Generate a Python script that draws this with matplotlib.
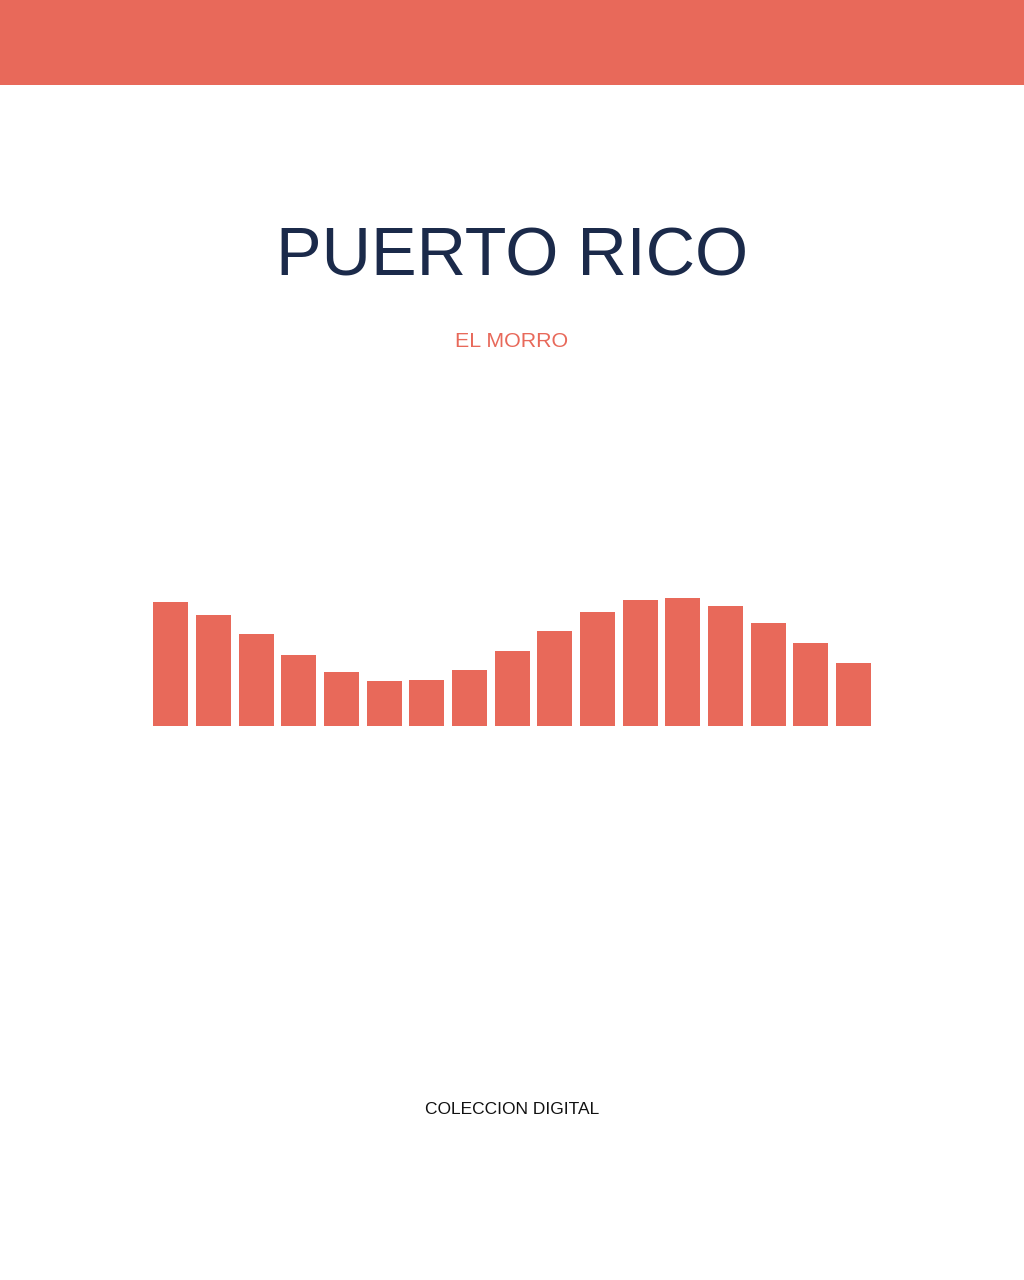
import matplotlib
matplotlib.use("Agg")
import matplotlib.pyplot as plt
from matplotlib.patches import Rectangle

# Data
categories = list(range(1, 18))
values = [124, 111, 91.7, 70.7, 53.7, 44.4, 45.4, 55.7, 74.4, 94.7,
          113.4, 125.4, 127.4, 119.4, 103, 82.7, 62.4]
title = "PUERTO RICO"
subtitle = "EL MORRO"
footer = "COLECCION DIGITAL"

CORAL = "#E8695A"
NAVY = "#1B2A4A"

W, H = 1024, 1280
fig = plt.figure(figsize=(W / 100, H / 100), dpi=100)
fig.patch.set_facecolor("white")

# top band
fig.patches.append(Rectangle((0, 1 - 85 / H), 1, 85 / H, transform=fig.transFigure,
                             facecolor=CORAL, edgecolor="none", zorder=0))

font = "Liberation Sans"
fig.text(0.5, 1 - 275 / H, title, ha="center", va="baseline", fontsize=49.2,
         color=NAVY, family=font)
fig.text(0.5, 1 - 347.3 / H, subtitle, ha="center", va="baseline", fontsize=15.4,
         color=CORAL, family=font)
fig.text(0.5, 1 - 1114 / H, footer, ha="center", va="baseline", fontsize=12.5,
         color="#111111", family=font)

# bar chart
left_px, right_px = 153.3, 871.0
base_px = 725.7
ymax = 130
ax = fig.add_axes([left_px / W, (H - base_px) / H, (right_px - left_px) / W, ymax / H])
xs = list(range(len(values)))
ax.bar(xs, values, width=0.82, color=CORAL, edgecolor="none")
ax.set_xlim(-0.41, len(values) - 1 + 0.41)
ax.set_ylim(0, ymax)
ax.axis("off")

fig.savefig("out.png", dpi=100, facecolor="white")
